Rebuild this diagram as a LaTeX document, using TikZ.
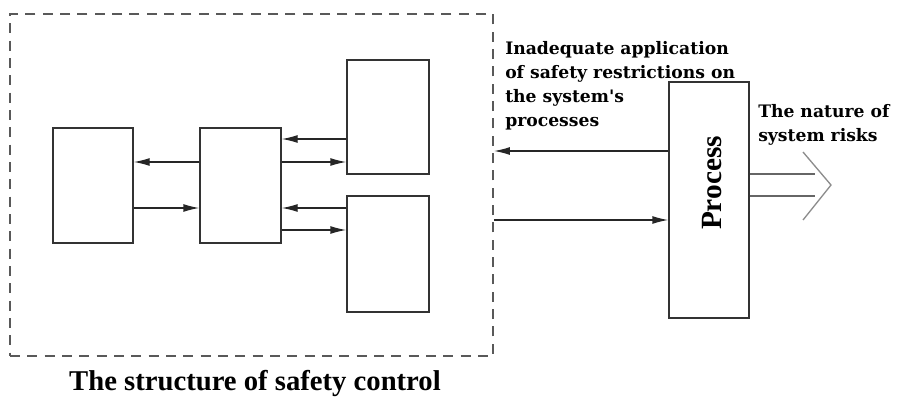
\documentclass[tikz,border=0pt]{standalone}
\usepackage{fontspec}
\setmainfont{Liberation Serif}
\newfontfamily\lblfont{DejaVu Serif}
\usetikzlibrary{fit,arrows.meta}
\begin{document}
\begin{tikzpicture}[x=0.75pt,y=-0.75pt,>={Latex[length=12pt,width=6pt]},
  box/.style={draw=black!80,line width=1pt,inner sep=0pt},
  arr/.style={->,draw=black!85,line width=1pt},
  lbl/.style={font=\lblfont\bfseries\fontsize{12.9}{18}\selectfont,align=left,inner sep=0pt}]
  \useasboundingbox (0,0) rectangle (897,400);
  % dashed frame of the control structure
  \node[draw=black!65,line width=1.4pt,dash pattern=on 7.5pt off 5.5pt,inner sep=0pt,
        fit={(10,14) (493,356)}] (frame) {};
  \node[font=\bfseries\fontsize{21.5}{24}\selectfont] (cap) at (255,383) {The structure of safety control};
  % inner boxes
  \node[box,fit={(53,128) (133,243)}] (lft) {};
  \node[box,fit={(200,128) (281,243)}] (mid) {};
  \node[box,fit={(347,60) (429,174)}] (upr) {};
  \node[box,fit={(347,196) (429,312)}] (lwr) {};
  \draw[arr] (mid.west |- 0,162) -- (lft.east |- 0,162);
  \draw[arr] (lft.east |- 0,208) -- (mid.west |- 0,208);
  \draw[arr] (upr.west |- 0,139) -- (mid.east |- 0,139);
  \draw[arr] (mid.east |- 0,162) -- (upr.west |- 0,162);
  \draw[arr] (lwr.west |- 0,208) -- (mid.east |- 0,208);
  \draw[arr] (mid.east |- 0,230) -- (lwr.west |- 0,230);
  % process
  \node[box,fit={(669,82) (749,318)}] (proc) {};
  \node[font=\bfseries\fontsize{22}{24}\selectfont,rotate=90,anchor=base,inner sep=0pt] (ptxt) at (721,183) {Process};
  \draw[arr] (proc.west |- 0,151) -- (frame.east |- 0,151);
  \draw[arr] (frame.east |- 0,220) -- (proc.west |- 0,220);
  \node[lbl,anchor=north west] (fb) at (505,41) {Inadequate application\\of safety restrictions on\\the system's\\processes};
  % risks output
  \coordinate (tip) at (831,185);
  \draw[black!60,line width=1pt] (proc.east |- 0,174) -- (815,174) (proc.east |- 0,196) -- (815,196);
  \draw[black!45,line width=1pt] (803,152) -- (tip) -- (803,220);
  \node[lbl,anchor=north west] (rk) at (758,104) {The nature of\\system risks};
\end{tikzpicture}
\end{document}
